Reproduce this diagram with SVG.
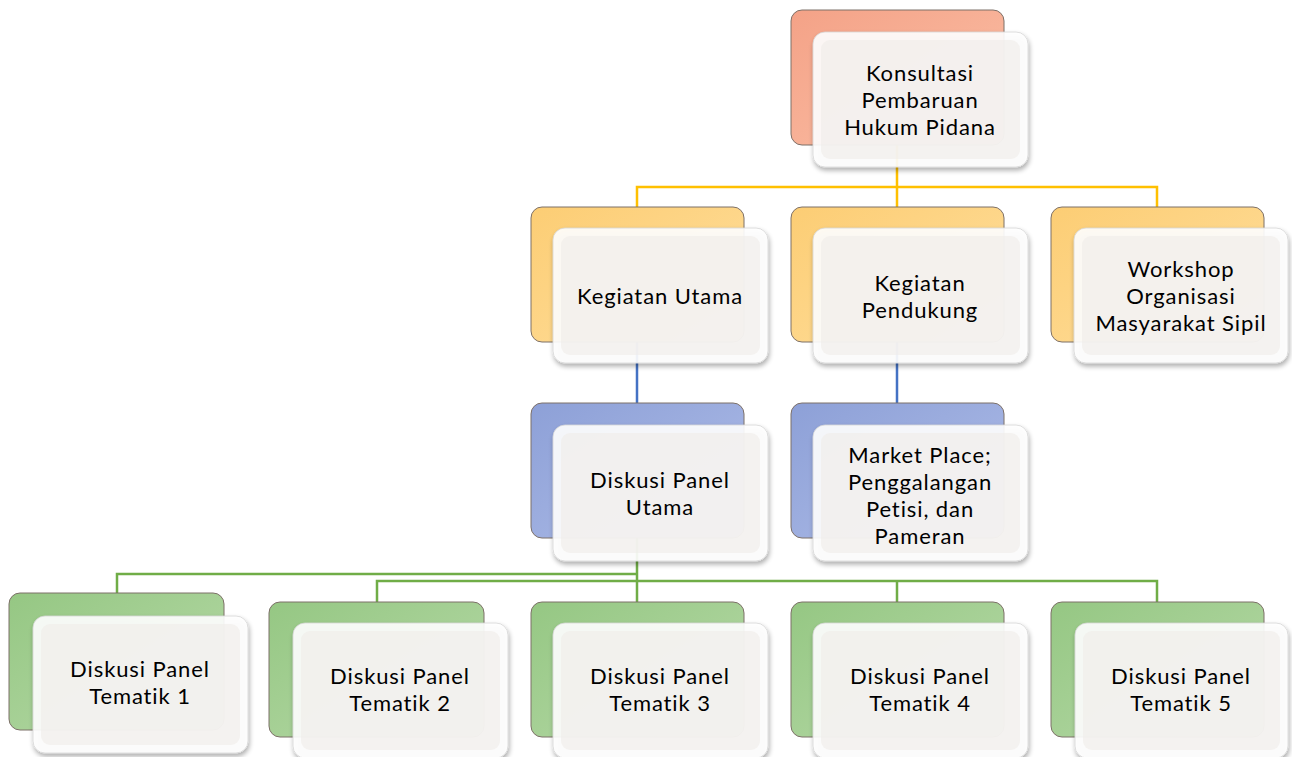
<svg xmlns="http://www.w3.org/2000/svg" width="1292" height="757" viewBox="0 0 1292 757">
<defs>
<linearGradient id="gSal" x1="0" y1="0" x2="1" y2="1"><stop offset="0" stop-color="#f4a287"/><stop offset="1" stop-color="#fbc0a7"/></linearGradient>
<linearGradient id="gYel" x1="0" y1="0" x2="1" y2="1"><stop offset="0" stop-color="#fccd74"/><stop offset="1" stop-color="#ffdf9e"/></linearGradient>
<linearGradient id="gBlu" x1="0" y1="0" x2="1" y2="1"><stop offset="0" stop-color="#8da0d7"/><stop offset="1" stop-color="#afbde8"/></linearGradient>
<linearGradient id="gGrn" x1="0" y1="0" x2="1" y2="1"><stop offset="0" stop-color="#95c783"/><stop offset="1" stop-color="#b8daa9"/></linearGradient>
<filter id="sh" x="-10%" y="-10%" width="125%" height="130%"><feGaussianBlur in="SourceAlpha" stdDeviation="2.5"/><feOffset dx="1" dy="3" result="b"/><feComponentTransfer><feFuncA type="linear" slope="0.35"/></feComponentTransfer><feMerge><feMergeNode/><feMergeNode in="SourceGraphic"/></feMerge></filter>
</defs>
<style>
.back{stroke:#7d7068;stroke-width:1;}
.front{fill:#ffffff;fill-opacity:0.9;stroke:#d6d6d6;stroke-width:0.8;}
.inner{fill:#eeebe7;fill-opacity:0.55;}
.y{stroke:#ffc000;}
.b{stroke:#4472c4;}
.g{stroke:#70ad47;}
.c path{fill:none;stroke-width:2.5;}
text{font-family:Lato,"Open Sans","Liberation Sans",sans-serif;font-size:22px;letter-spacing:0.9px;fill:#000;text-anchor:middle;}
</style>
<rect width="1292" height="757" fill="#ffffff"/>
<g id="connectors" class="c">
<path class="y" d="M897 145V187M637 207V187H1157V207M897 187V207"/>
<path class="b" d="M637 342V403M897 342V403"/>
<path class="g" d="M637 538V602M117 593V574H637M377 602V581H1157V602M897 581V602"/>
</g>
<g id="n0">
<rect class="back" x="791" y="10" width="213" height="135" rx="11" fill="url(#gSal)"/>
<g filter="url(#sh)"><rect class="front" x="813" y="32" width="215" height="135" rx="12"/></g>
<rect class="inner" x="821" y="40" width="199" height="119" rx="9"/>
<text x="920" y="81">Konsultasi</text><text x="920" y="108">Pembaruan</text><text x="920" y="135">Hukum Pidana</text>
</g>
<g id="n1">
<rect class="back" x="531" y="207" width="213" height="135" rx="11" fill="url(#gYel)"/>
<g filter="url(#sh)"><rect class="front" x="553" y="228" width="215" height="135" rx="12"/></g>
<rect class="inner" x="561" y="236" width="199" height="119" rx="9"/>
<text x="660" y="304">Kegiatan Utama</text>
</g>
<g id="n2">
<rect class="back" x="791" y="207" width="213" height="135" rx="11" fill="url(#gYel)"/>
<g filter="url(#sh)"><rect class="front" x="813" y="228" width="215" height="135" rx="12"/></g>
<rect class="inner" x="821" y="236" width="199" height="119" rx="9"/>
<text x="920" y="291">Kegiatan</text><text x="920" y="318">Pendukung</text>
</g>
<g id="n3">
<rect class="back" x="1051" y="207" width="213" height="135" rx="11" fill="url(#gYel)"/>
<g filter="url(#sh)"><rect class="front" x="1074" y="228" width="214" height="135" rx="12"/></g>
<rect class="inner" x="1082" y="236" width="198" height="119" rx="9"/>
<text x="1181" y="277">Workshop</text><text x="1181" y="304">Organisasi</text><text x="1181" y="331">Masyarakat Sipil</text>
</g>
<g id="n4">
<rect class="back" x="531" y="403" width="213" height="135" rx="11" fill="url(#gBlu)"/>
<g filter="url(#sh)"><rect class="front" x="553" y="425" width="215" height="136" rx="12"/></g>
<rect class="inner" x="561" y="433" width="199" height="120" rx="9"/>
<text x="660" y="488">Diskusi Panel</text><text x="660" y="515">Utama</text>
</g>
<g id="n5">
<rect class="back" x="791" y="403" width="213" height="135" rx="11" fill="url(#gBlu)"/>
<g filter="url(#sh)"><rect class="front" x="813" y="425" width="215" height="136" rx="12"/></g>
<rect class="inner" x="821" y="433" width="199" height="120" rx="9"/>
<text x="920" y="463">Market Place;</text><text x="920" y="490">Penggalangan</text><text x="920" y="517">Petisi, dan</text><text x="920" y="544">Pameran</text>
</g>
<g id="n6">
<rect class="back" x="9" y="593" width="215" height="137" rx="11" fill="url(#gGrn)"/>
<g filter="url(#sh)"><rect class="front" x="33" y="616" width="215" height="137" rx="12"/></g>
<rect class="inner" x="41" y="624" width="199" height="121" rx="9"/>
<text x="140" y="677">Diskusi Panel</text><text x="140" y="704">Tematik 1</text>
</g>
<g id="n7">
<rect class="back" x="269" y="602" width="215" height="135" rx="11" fill="url(#gGrn)"/>
<g filter="url(#sh)"><rect class="front" x="293" y="623" width="215" height="135" rx="12"/></g>
<rect class="inner" x="301" y="631" width="199" height="119" rx="9"/>
<text x="400" y="684">Diskusi Panel</text><text x="400" y="711">Tematik 2</text>
</g>
<g id="n8">
<rect class="back" x="531" y="602" width="213" height="135" rx="11" fill="url(#gGrn)"/>
<g filter="url(#sh)"><rect class="front" x="553" y="623" width="215" height="135" rx="12"/></g>
<rect class="inner" x="561" y="631" width="199" height="119" rx="9"/>
<text x="660" y="684">Diskusi Panel</text><text x="660" y="711">Tematik 3</text>
</g>
<g id="n9">
<rect class="back" x="791" y="602" width="213" height="135" rx="11" fill="url(#gGrn)"/>
<g filter="url(#sh)"><rect class="front" x="813" y="623" width="215" height="135" rx="12"/></g>
<rect class="inner" x="821" y="631" width="199" height="119" rx="9"/>
<text x="920" y="684">Diskusi Panel</text><text x="920" y="711">Tematik 4</text>
</g>
<g id="n10">
<rect class="back" x="1051" y="602" width="213" height="135" rx="11" fill="url(#gGrn)"/>
<g filter="url(#sh)"><rect class="front" x="1075" y="623" width="213" height="135" rx="12"/></g>
<rect class="inner" x="1083" y="631" width="197" height="119" rx="9"/>
<text x="1181" y="684">Diskusi Panel</text><text x="1181" y="711">Tematik 5</text>
</g>
</svg>
